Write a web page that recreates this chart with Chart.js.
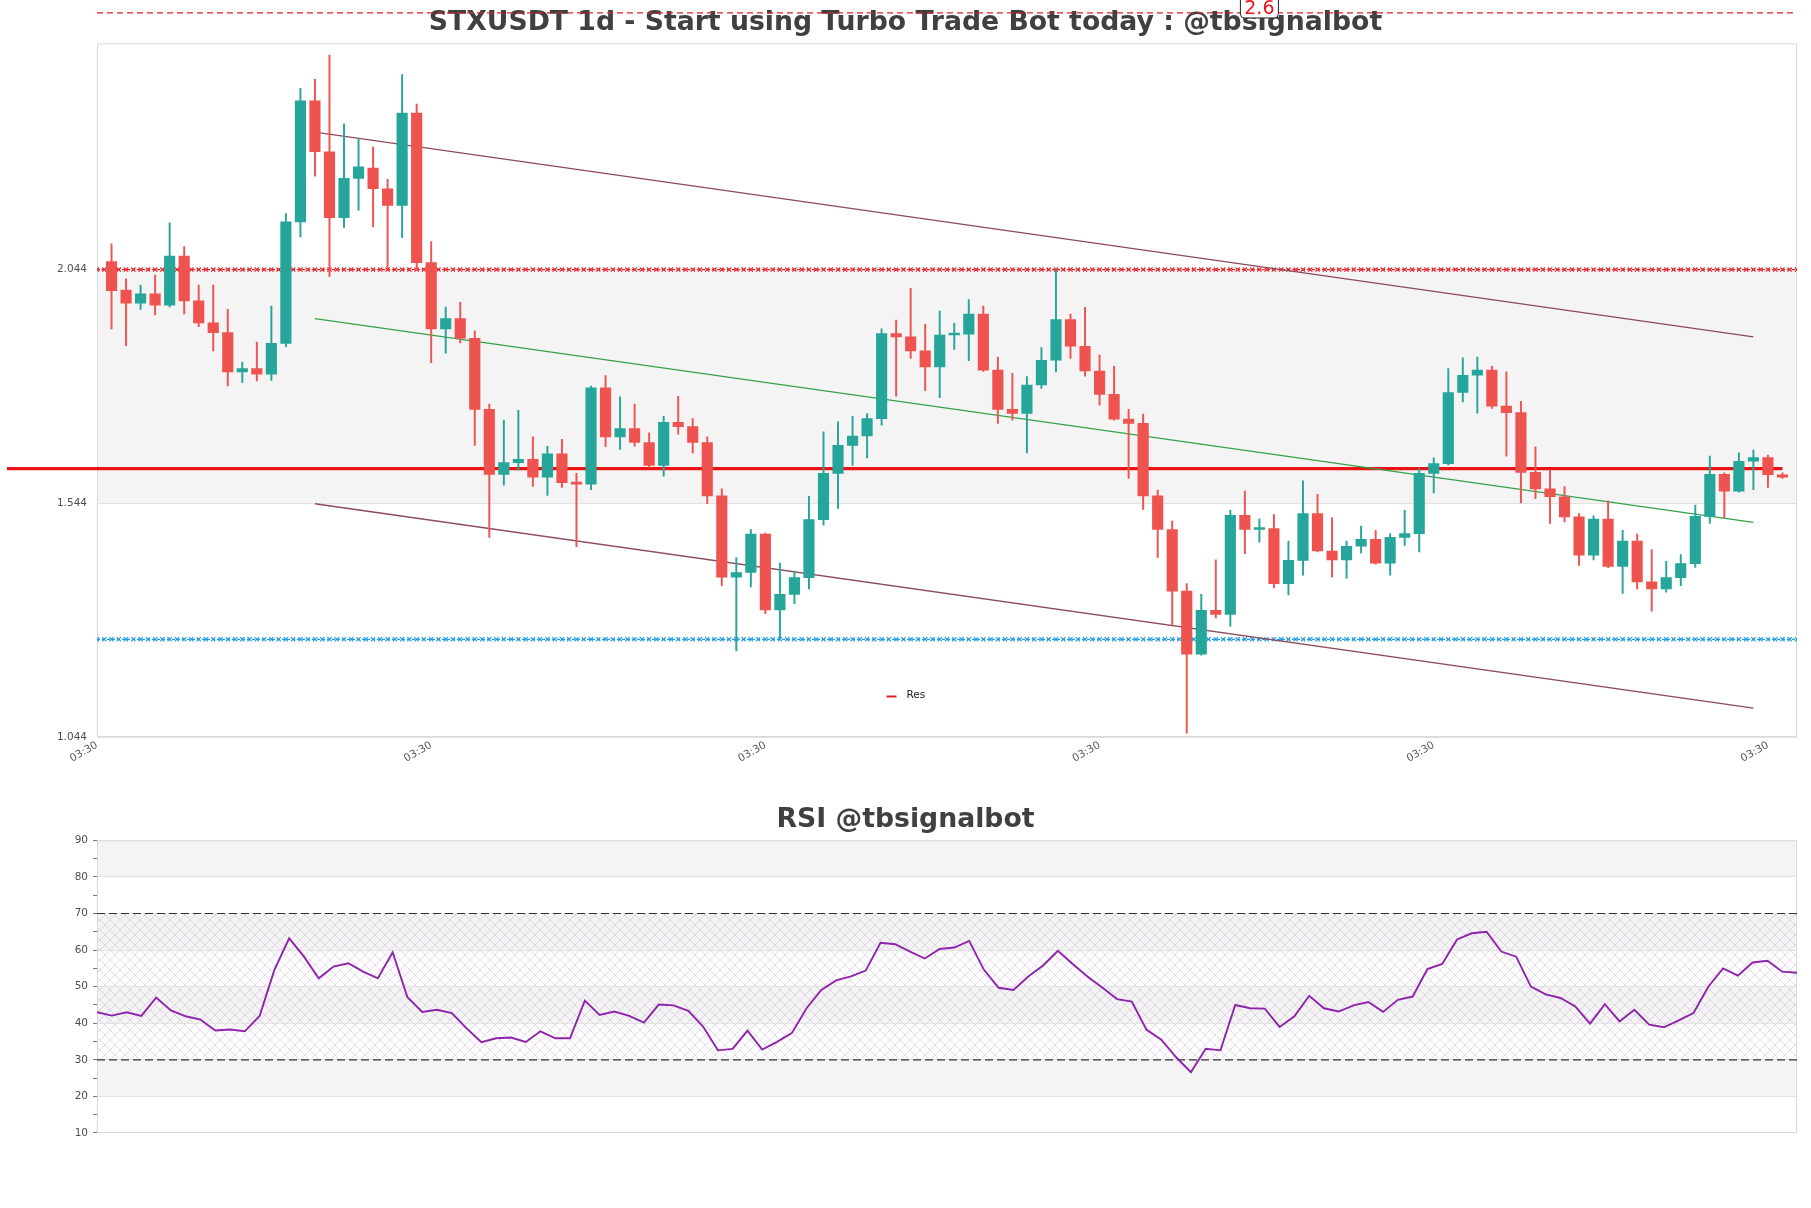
<!DOCTYPE html>
<html>
<head>
<meta charset="utf-8">
<script src="https://cdn.jsdelivr.net/npm/chart.js@4.4.1/dist/chart.umd.min.js"></script>
<style>
  html, body { margin: 0; padding: 0; background: #fff; }
  #mainWrap { position: absolute; left: 0; top: 0; width: 1811px; height: 790px; }
  #rsiWrap { position: absolute; left: 0; top: 790px; width: 1811px; height: 418px; }
</style>
</head>
<body>
<div id="mainWrap"><canvas id="priceChart" width="1811" height="790"></canvas></div>
<div id="rsiWrap"><canvas id="rsiChart" width="1811" height="418"></canvas></div>
<script>
// daily candles
const opens = [2.061,2.000,1.972,1.992,1.968,2.073,1.977,1.930,1.909,1.825,1.832,1.820,1.886,2.146,2.405,2.296,2.155,2.239,2.261,2.217,
  2.181,2.379,2.059,1.917,1.939,1.897,1.745,1.606,1.631,1.638,1.600,1.650,1.589,1.585,1.791,1.686,1.704,1.674,1.625,1.717,
  1.708,1.674,1.560,1.386,1.396,1.478,1.316,1.349,1.385,1.509,1.608,1.668,1.688,1.725,1.907,1.900,1.870,1.836,1.904,1.906,
  1.949,1.829,1.745,1.736,1.797,1.850,1.937,1.880,1.827,1.777,1.724,1.715,1.560,1.488,1.356,1.221,1.315,1.306,1.518,1.488,
  1.490,1.372,1.422,1.522,1.442,1.423,1.452,1.467,1.416,1.471,1.479,1.608,1.629,1.781,1.818,1.829,1.752,1.738,1.610,1.575,
  1.558,1.515,1.433,1.510,1.409,1.463,1.376,1.361,1.385,1.415,1.516,1.606,1.570,1.634,1.642,1.605];
const highs = [2.099,2.024,2.011,2.032,2.144,2.093,2.011,2.011,1.959,1.846,1.889,1.966,2.164,2.432,2.451,2.503,2.356,2.324,2.306,2.237,
  2.461,2.398,2.104,1.964,1.974,1.913,1.756,1.722,1.743,1.686,1.666,1.681,1.608,1.795,1.817,1.772,1.756,1.695,1.730,1.773,
  1.725,1.686,1.575,1.428,1.488,1.480,1.416,1.399,1.559,1.697,1.718,1.730,1.736,1.917,1.936,2.004,1.927,1.955,1.929,1.980,
  1.966,1.857,1.822,1.815,1.877,2.043,1.949,1.963,1.861,1.837,1.745,1.735,1.572,1.506,1.372,1.349,1.423,1.529,1.570,1.511,
  1.520,1.463,1.592,1.563,1.513,1.463,1.495,1.486,1.479,1.529,1.618,1.641,1.832,1.855,1.857,1.837,1.825,1.762,1.665,1.615,
  1.580,1.522,1.517,1.549,1.486,1.478,1.445,1.420,1.434,1.540,1.645,1.609,1.652,1.658,1.647,1.609];
const lows = [1.917,1.881,1.959,1.947,1.964,1.949,1.922,1.870,1.795,1.802,1.806,1.807,1.879,2.114,2.244,2.029,2.134,2.171,2.136,2.047,
  2.112,2.043,1.845,1.865,1.887,1.668,1.471,1.583,1.615,1.580,1.561,1.578,1.451,1.573,1.665,1.659,1.666,1.620,1.602,1.692,
  1.652,1.543,1.368,1.228,1.365,1.308,1.256,1.329,1.361,1.497,1.533,1.625,1.641,1.711,1.773,1.854,1.785,1.770,1.873,1.849,
  1.826,1.715,1.722,1.652,1.790,1.825,1.854,1.816,1.754,1.722,1.597,1.531,1.428,1.283,1.052,1.219,1.299,1.281,1.436,1.461,
  1.363,1.348,1.390,1.440,1.386,1.383,1.438,1.414,1.390,1.454,1.440,1.566,1.626,1.761,1.737,1.747,1.645,1.545,1.554,1.501,
  1.504,1.411,1.423,1.406,1.351,1.361,1.313,1.354,1.368,1.407,1.501,1.513,1.568,1.573,1.578,1.597];
const closes = [1.999,1.972,1.992,1.968,2.073,1.977,1.930,1.909,1.825,1.832,1.820,1.886,2.146,2.405,2.296,2.155,2.239,2.264,2.217,2.181,
  2.379,2.059,1.917,1.939,1.897,1.745,1.606,1.631,1.638,1.600,1.650,1.588,1.585,1.791,1.686,1.704,1.674,1.625,1.717,1.708,
  1.674,1.560,1.386,1.396,1.478,1.316,1.349,1.385,1.509,1.608,1.668,1.688,1.725,1.907,1.900,1.870,1.836,1.904,1.906,1.949,
  1.829,1.745,1.736,1.797,1.850,1.937,1.880,1.827,1.777,1.724,1.715,1.560,1.488,1.356,1.221,1.315,1.306,1.518,1.488,1.490,
  1.372,1.422,1.522,1.442,1.423,1.452,1.467,1.416,1.471,1.479,1.608,1.629,1.781,1.818,1.829,1.752,1.738,1.610,1.575,1.558,
  1.515,1.433,1.510,1.409,1.463,1.376,1.361,1.385,1.415,1.516,1.606,1.570,1.634,1.642,1.605,1.600];

const rsi = [43.0,42.1,43.0,42.0,47.0,43.5,41.9,41.0,38.0,38.3,37.8,42.0,54.6,63.2,58.2,52.3,55.5,56.4,54.1,52.3,
  59.4,47.1,43.1,43.7,42.8,38.6,34.8,35.9,36.1,34.9,37.8,35.9,35.9,46.2,42.3,43.2,42.0,40.2,45.1,44.9,
  43.4,39.1,32.6,33.0,38.0,32.8,34.9,37.3,44.1,49.1,51.7,52.8,54.4,62.0,61.6,59.6,57.7,60.3,60.7,62.5,
  54.6,49.7,49.1,52.8,55.8,59.8,56.2,52.8,49.8,46.6,45.9,38.2,35.5,30.7,26.6,33.0,32.6,45.0,44.1,44.0,
  39.0,41.9,47.5,44.1,43.2,44.9,45.8,43.1,46.4,47.3,54.8,56.2,62.9,64.6,65.0,59.6,58.2,50.0,47.9,46.9,
  44.6,39.9,45.2,40.5,43.7,39.6,38.9,40.8,42.8,50.0,55.0,53.0,56.6,57.1,54.1,53.8];

const yTicks = [1.044, 1.544, 2.044];
const xTickLabels = ["03:30", "03:30", "03:30", "03:30", "03:30", "03:30"];
const xTickFirst = -1;
const xTickStep = 23;

const resLevel = 1.618;
const resSpan = [-7.2, 115];
const redLevel = 2.044;
const blueLevel = 1.253;
const topLevel = 2.593;
const topLevelText = "2.6";
const topLevelAt = 79;

const channelX = [14, 113];
const channelUpper = [2.338, 1.900];
const channelMid = [1.939, 1.503];
const channelLower = [1.543, 1.106];

const rsiTicks = [10, 20, 30, 40, 50, 60, 70, 80, 90];
const rsiGuides = [30, 70];

const UP = "#26a69a", DOWN = "#ef5350";
Chart.defaults.font.family = "'DejaVu Sans', sans-serif";
Chart.defaults.font.size = 10.5;
Chart.defaults.color = "#4d4d4d";
Chart.defaults.animation = false;

const idx = closes.map((_, i) => i);
const isUp = idx.map(i => closes[i] >= opens[i]);
const candleColors = isUp.map(u => (u ? UP : DOWN));

// every half candle a marker, drawn like the dotted "x" level lines
const markerXs = [];
for (let k = 2 * xTickFirst; k <= 2 * 116; k++) markerXs.push(k / 2);

function levelLine(level, color) {
  return {
    type: "line",
    data: markerXs.map(x => ({ x, y: level })),
    borderColor: color,
    borderWidth: 1.2,
    borderDash: [3, 2],
    pointStyle: "crossRot",
    pointRadius: 3,
    pointBorderWidth: 1.2,
    pointBorderColor: color,
    pointHoverRadius: 0,
    order: 3
  };
}

function segment(xs, ys, color, width) {
  return {
    type: "line",
    data: xs.map((x, i) => ({ x, y: ys[i] })),
    borderColor: color,
    borderWidth: width,
    pointRadius: 0,
    order: 2
  };
}

// empty right-hand axis, keeps the plot 14px from the edge while titles stay centred on the page
const rightGap = {
  position: "right",
  display: true,
  grid: { display: false, drawTicks: false },
  border: { display: false },
  ticks: { display: false },
  afterFit: s => { s.width = 14; }
};

const bandPlugin = {
  id: "bands",
  beforeDraw(chart, args, opts) {
    const { ctx, chartArea: a } = chart;
    const y = chart.scales.y;
    ctx.save();
    ctx.fillStyle = "#fff";
    ctx.fillRect(0, 0, chart.width, chart.height);
    const edges = [y.min, ...opts.edges.filter(v => v > y.min && v < y.max), y.max];
    for (let k = 0; k < edges.length - 1; k++) {
      if (k % 2 === 0) continue;
      const top = y.getPixelForValue(edges[k + 1]);
      const bot = y.getPixelForValue(edges[k]);
      ctx.fillStyle = "#f4f4f4";
      ctx.fillRect(a.left, top, a.right - a.left, bot - top);
    }
    if (opts.hatch) {
      const c = document.createElement("canvas");
      c.width = 10; c.height = 10;
      const g = c.getContext("2d");
      g.strokeStyle = "rgba(160,120,175,0.38)";
      g.lineWidth = 0.7;
      g.beginPath();
      g.moveTo(0, 0); g.lineTo(10, 10);
      g.moveTo(10, 0); g.lineTo(0, 10);
      g.stroke();
      ctx.fillStyle = ctx.createPattern(c, "repeat");
      const top = y.getPixelForValue(opts.hatch[1]);
      const bot = y.getPixelForValue(opts.hatch[0]);
      ctx.fillRect(a.left, top, a.right - a.left, bot - top);
    }
    ctx.restore();
  },
  beforeDatasetsDraw(chart) {
    const { ctx, chartArea: a } = chart;
    ctx.save();
    ctx.strokeStyle = "#d9d9d9";
    ctx.lineWidth = 1;
    ctx.strokeRect(a.left + 0.5, a.top + 0.5, a.right - a.left - 1, a.bottom - a.top - 1);
    ctx.restore();
  }
};

const notesPlugin = {
  id: "notes",
  afterDraw(chart) {
    const { ctx, chartArea: a } = chart;
    const xs = chart.scales.x, ys = chart.scales.y;
    ctx.save();
    // legend inside the plot
    const cx = chart.width / 2;
    const ly = a.bottom - 42;
    ctx.strokeStyle = "#e01a1f";
    ctx.lineWidth = 2;
    ctx.beginPath();
    ctx.moveTo(cx - 19, ly + 1.5); ctx.lineTo(cx - 9, ly + 1.5);
    ctx.stroke();
    ctx.fillStyle = "#222";
    ctx.font = "10.5px 'DejaVu Sans'";
    ctx.textBaseline = "middle";
    ctx.textAlign = "left";
    ctx.fillText("Res", cx + 1, ly);
    // label of the top level
    const px = xs.getPixelForValue(topLevelAt);
    const py = ys.getPixelForValue(topLevel);
    ctx.fillStyle = "#fff";
    ctx.strokeStyle = "#222";
    ctx.lineWidth = 1;
    ctx.beginPath();
    ctx.roundRect(px - 19, py - 24, 38, 29, 4);
    ctx.fill(); ctx.stroke();
    ctx.fillStyle = "#e8141a";
    ctx.font = "19px 'DejaVu Sans'";
    ctx.textAlign = "center";
    ctx.textBaseline = "alphabetic";
    ctx.fillText(topLevelText, px, py + 1.5);
    ctx.restore();
  }
};

new Chart(document.getElementById("priceChart"), {
  type: "bar",
  data: {
    datasets: [
      {
        data: idx.map(i => ({ x: i, y: [lows[i], highs[i]] })),
        backgroundColor: candleColors,
        barThickness: 1.3,
        grouped: false,
        order: 1
      },
      {
        data: idx.map(i => ({ x: i, y: [opens[i], closes[i]] })),
        backgroundColor: candleColors,
        barThickness: 10.5,
        minBarLength: 2,
        grouped: false,
        order: 0
      },
      levelLine(redLevel, "#e8262b"),
      levelLine(blueLevel, "#1e9be6"),
      segment(channelX, channelUpper, "#8d4a5c", 1.3),
      segment(channelX, channelMid, "#34a24a", 1.2),
      segment(channelX, channelLower, "#8d4a5c", 1.3),
      Object.assign(segment(resSpan, [resLevel, resLevel], "#e81416", 3.2), { clip: false, order: 2 }),
      Object.assign(segment([xTickFirst, 116], [topLevel, topLevel], "#d8232a", 1.2),
        { clip: false, borderDash: [6, 4], order: 2 })
    ]
  },
  options: {
    responsive: false,
    devicePixelRatio: 1,
    layout: { padding: 0 },
    plugins: {
      legend: { display: false },
      tooltip: { enabled: false },
      title: {
        display: true,
        text: "STXUSDT 1d - Start using Turbo Trade Bot today : @tbsignalbot",
        color: "#404040",
        font: { size: 26.7, weight: "bold", family: "'DejaVu Sans', sans-serif" },
        padding: { top: 7, bottom: 4.3 }
      },
      bands: { edges: yTicks }
    },
    scales: {
      x: {
        type: "linear",
        min: xTickFirst,
        max: 116,
        offset: false,
        grid: { display: false, drawTicks: false, offset: false },
        border: { display: false },
        afterBuildTicks: s => { s.ticks = xTickLabels.map((_, k) => ({ value: xTickFirst + k * xTickStep })); },
        afterFit: s => { s.height = 53; },
        ticks: {
          autoSkip: false,
          minRotation: 30,
          maxRotation: 30,
          padding: 2,
          color: "#555",
          callback: (v, k) => xTickLabels[k]
        }
      },
      y: {
        min: 1.044,
        max: 2.528,
        grid: { color: "#e2e2e2", drawTicks: false },
        border: { display: false },
        afterBuildTicks: s => { s.ticks = yTicks.map(v => ({ value: v })); },
        afterFit: s => { s.width = 97; },
        ticks: { padding: 10, color: "#4d4d4d", callback: v => Number(v).toFixed(3) }
      },
      gap: rightGap
    }
  },
  plugins: [bandPlugin, notesPlugin]
});

new Chart(document.getElementById("rsiChart"), {
  type: "line",
  data: {
    datasets: [
      {
        data: idx.map(i => ({ x: i, y: rsi[i] })),
        borderColor: "#8e24aa",
        borderWidth: 1.9,
        pointRadius: 0,
        order: 0
      },
      ...rsiGuides.map(g => ({
        data: [{ x: 0, y: g }, { x: idx.length - 1, y: g }],
        borderColor: "#333",
        borderWidth: 1.2,
        borderDash: [8, 4],
        pointRadius: 0,
        order: 1
      }))
    ]
  },
  options: {
    responsive: false,
    devicePixelRatio: 1,
    layout: { padding: { left: 0, right: 0, top: 0, bottom: 75 } },
    plugins: {
      legend: { display: false },
      tooltip: { enabled: false },
      title: {
        display: true,
        text: "RSI @tbsignalbot",
        color: "#404040",
        font: { size: 26.7, weight: "bold", family: "'DejaVu Sans', sans-serif" },
        padding: { top: 13.7, bottom: 4.6 }
      },
      bands: { edges: rsiTicks, hatch: rsiGuides }
    },
    scales: {
      x: { type: "linear", min: 0, max: idx.length - 1, display: false },
      y: {
        min: 10,
        max: 90,
        afterFit: s => { s.width = 97; },
        border: { display: false },
        grid: {
          color: c => (rsiTicks.includes(c.tick.value) ? "#e2e2e2" : "rgba(0,0,0,0)"),
          tickColor: "#777",
          tickLength: 4
        },
        ticks: {
          stepSize: 5,
          padding: 5,
          color: "#4d4d4d",
          callback: v => (rsiTicks.includes(v) ? String(v) : "")
        }
      },
      gap: rightGap
    }
  },
  plugins: [bandPlugin]
});
</script>
</body>
</html>
